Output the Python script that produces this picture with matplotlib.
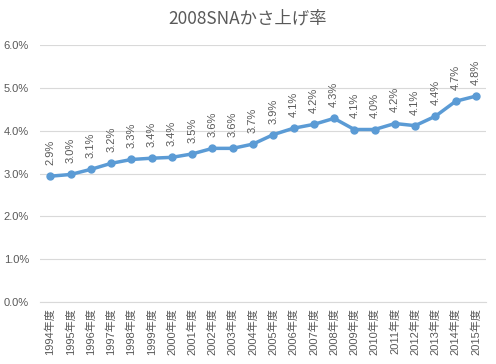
import numpy as np
import matplotlib
matplotlib.use("Agg")
from matplotlib import pyplot as plt
from matplotlib.ticker import PercentFormatter

plt.rcParams['font.family'] = ['Liberation Sans', 'Noto Sans CJK JP', 'DejaVu Sans']

years = [str(y) + "年度" for y in range(1994, 2016)]
rates = [2.94, 2.98, 3.10, 3.24, 3.33, 3.36, 3.38, 3.46, 3.59, 3.59, 3.69,
         3.91, 4.06, 4.15, 4.29, 4.03, 4.03, 4.17, 4.12, 4.34, 4.69, 4.81]
labels = ["2.9%", "3.0%", "3.1%", "3.2%", "3.3%", "3.4%", "3.4%", "3.5%",
          "3.6%", "3.6%", "3.7%", "3.9%", "4.1%", "4.2%", "4.3%", "4.1%",
          "4.0%", "4.2%", "4.1%", "4.4%", "4.7%", "4.8%"]

grey = "#595959"
blue = "#5B9BD5"

fig = plt.figure(figsize=(4.96, 3.64), dpi=100)
ax = fig.add_axes([0.081, 0.170, 0.899, 0.706])

x = np.arange(len(years))
ax.plot(x, rates, color=blue, linewidth=2.5, marker="o", markersize=5, zorder=3)

for xi, yi, lab in zip(x, rates, labels):
    ax.annotate(lab, (xi, yi), xytext=(0, 8), textcoords="offset points",
                rotation=90, ha="center", va="bottom", fontsize=8, color=grey)

ax.set_xlim(-0.5, len(years) - 0.5)
ax.set_ylim(0, 6)
ax.set_yticks(np.arange(0, 7, 1))
ax.yaxis.set_major_formatter(PercentFormatter(decimals=1))
ax.set_xticks(x)
ax.set_xticklabels(years, rotation=90, fontsize=8, color=grey)
ax.tick_params(axis="y", labelsize=8, colors=grey, length=0, pad=8)
ax.tick_params(axis="x", length=0, pad=4)

ax.grid(axis="y", color="#D9D9D9", linewidth=0.8)
ax.set_axisbelow(True)
for s in ["top", "right", "left"]:
    ax.spines[s].set_visible(False)
ax.spines["bottom"].set_color("#D9D9D9")

fig.suptitle("2008SNAかさ上げ率", y=0.975, fontsize=12.5, color=grey,
             family=['Noto Sans CJK JP', 'DejaVu Sans'])

fig.savefig("out.png", dpi=100)
